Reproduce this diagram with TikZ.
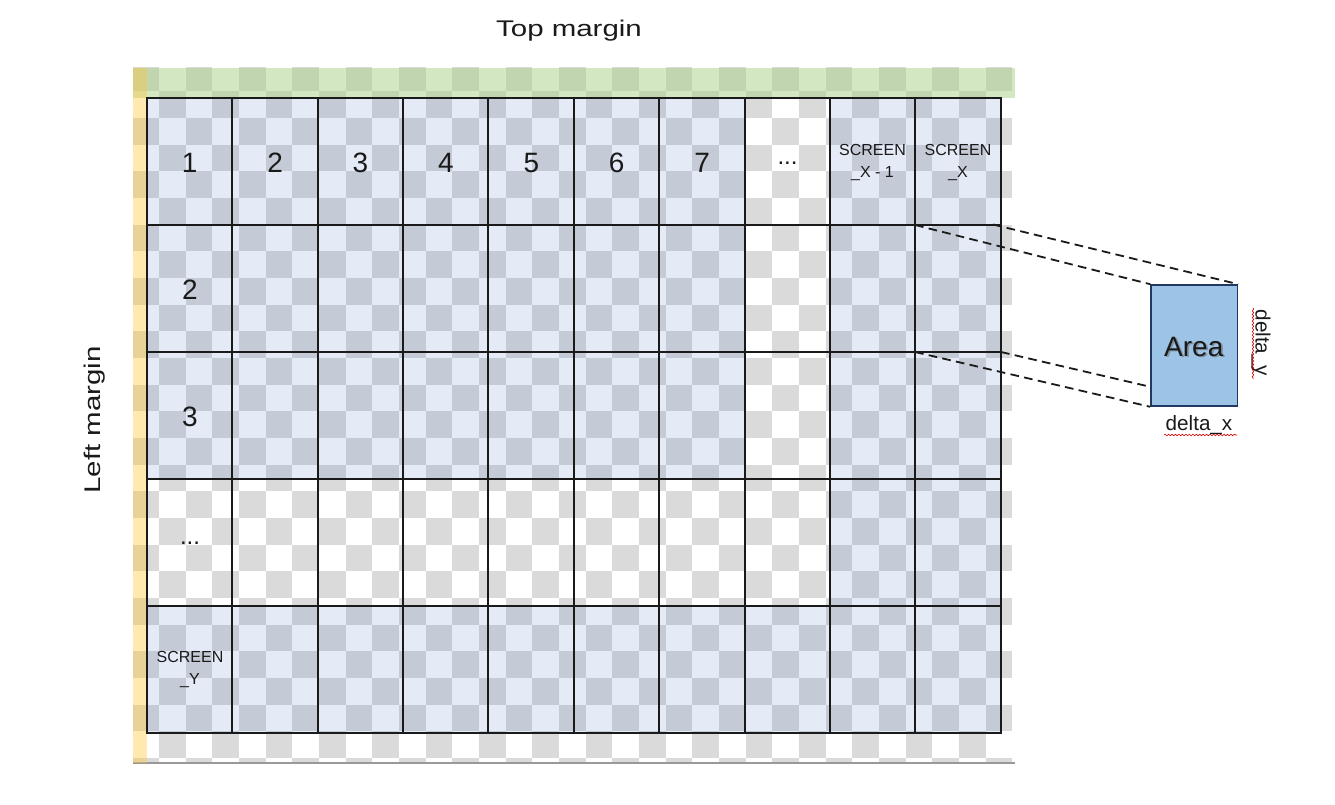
\documentclass[tikz,border=0pt]{standalone}
\usepackage{fontspec}
\setmainfont{Liberation Sans}
\newfontfamily\widefont{Liberation Sans}[FakeStretch=1.3]
\usetikzlibrary{decorations.pathmorphing}
\definecolor{chk}{RGB}{218,218,218}
\definecolor{cellblue}{RGB}{75,115,195}
\definecolor{topgreen}{RGB}{171,209,137}
\definecolor{leftyellow}{RGB}{255,200,55}
\definecolor{areafill}{RGB}{157,195,230}
\definecolor{areadraw}{RGB}{31,56,100}
\definecolor{ink}{RGB}{26,26,26}
\tikzset{
  gridline/.style={draw=ink, line width=1.5pt},
  numlabel/.style={inner sep=0pt, text=ink, font=\fontsize{21}{24}\selectfont},
  dotlabel/.style={inner sep=0pt, anchor=base, text=ink, font=\fontsize{18}{20}\selectfont},
  screenlabel/.style={inner sep=0pt, align=center, text=ink, font=\fontsize{12}{16.5}\selectfont},
  marginlabel/.style={inner sep=0pt, text=ink, font=\widefont\fontsize{17}{20}\selectfont},
  areabox/.style={draw=areadraw, fill=areafill, line width=1.2pt, minimum width=64.7pt, minimum height=90.75pt, inner sep=0pt},
  areatext/.style={inner sep=0pt, font=\fontsize{21}{24}\selectfont},
  deltalabel/.style={inner sep=0pt, text=ink, font=\fontsize{15.5}{18}\selectfont},
  dashline/.style={draw=ink, line width=1.35pt, dash pattern=on 6.5pt off 4pt},
  squig/.style={draw=red!85!black, line width=0.45pt, decorate, decoration={snake, amplitude=0.6pt, segment length=2.6pt}}
}
\begin{document}
\begin{tikzpicture}[x=0.75pt,y=-0.75pt]
\useasboundingbox (0,0) rectangle (1335,805);
% checkerboard background
\begin{scope}
  \clip (133,68) rectangle (1015,763);
  \fill[white] (133,68) rectangle (1015,763);
  \foreach \i in {0,...,32}{
    \pgfmathtruncatemacro\js{mod(\i,2)}
    \pgfmathtruncatemacro\jn{\js+2}
    \foreach \j in {\js,\jn,...,26}{
      \fill[chk] ({132.3+26.67*\i},{64.6+26.67*\j}) rectangle +(26.67,26.67);
    }
  }
\end{scope}
\draw[black!40, line width=0.8pt] (133,763) -- (1015,763);
% margin strips
\fill[topgreen, fill opacity=0.5] (133,68) rectangle (1015,98);
\fill[leftyellow, fill opacity=0.4] (133,68) rectangle (147,763);
% grid corner coordinates
\foreach \x [count=\i from 0] in {147,232,318,403,488,574,659,745,830,915,1001}{
  \foreach \y [count=\j from 0] in {98,225,352,479,606,733}{
    \coordinate (g-\i-\j) at (\x,\y);
  }
}
% blue cells
\foreach \j in {0,...,4}{
  \foreach \i in {0,...,9}{
    \pgfmathtruncatemacro\skipcell{((\j<3)&&(\i==7))||((\j==3)&&(\i<8)) ? 1 : 0}
    \ifnum\skipcell=0
      \pgfmathtruncatemacro\ii{\i+1}
      \pgfmathtruncatemacro\jj{\j+1}
      \fill[cellblue, fill opacity=0.15] (g-\i-\j) rectangle (g-\ii-\jj);
    \fi
  }
}
% grid lines
\foreach \i in {0,...,10}{ \draw[gridline] (g-\i-0) -- (g-\i-5); }
\foreach \j in {0,...,5}{ \draw[gridline, line cap=rect] (g-0-\j) -- (g-10-\j); }
% column labels
\foreach \k in {1,...,7}{
  \node[numlabel] (c\k) at ({147+85.4*(\k-0.5)},163) {\k};
}
\node[dotlabel] (c8) at (787.5,165) {...};
\node[screenlabel] (c9) at (872.5,163) {SCREEN\\\_X - 1};
\node[screenlabel] (c10) at (958,163) {SCREEN\\\_X};
% row labels
\node[numlabel] (r2) at (190,290) {2};
\node[numlabel] (r3) at (190,417) {3};
\node[dotlabel] (r4) at (190,544) {...};
\node[screenlabel] (r5) at (190,670) {SCREEN\\\_Y};
% margin labels
\node[marginlabel] (topm) at (569,31) {Top margin};
\node[marginlabel, rotate=90] (leftm) at (95,420) {Left margin};
% area box
\node[areabox] (area) at (1194.2,345.5) {};
\node[areatext, text=black!55, opacity=0.6] (areash) at (1195.5,348.5) {Area};
\node[areatext, text=ink] (areat) at (1193.8,347) {Area};
\node[deltalabel] (dx) at (1199,425) {delta\_x};
\node[deltalabel, rotate=-90] (dy) at (1261,343) {delta\_y};
\draw[squig] (1164,435) -- (1237,435);
\draw[squig] (1253,308) -- (1253,379);
% projection lines
\coordinate (p2) at (993,224.5);
\coordinate (q4) at ([yshift=15pt]area.south west);
\draw[dashline] (g-9-1) -- (area.north west);
\draw[dashline] (p2) -- (area.north east);
\draw[dashline] (g-9-2) -- (area.south west);
\draw[dashline] (g-10-2) -- (q4);
\end{tikzpicture}
\end{document}
